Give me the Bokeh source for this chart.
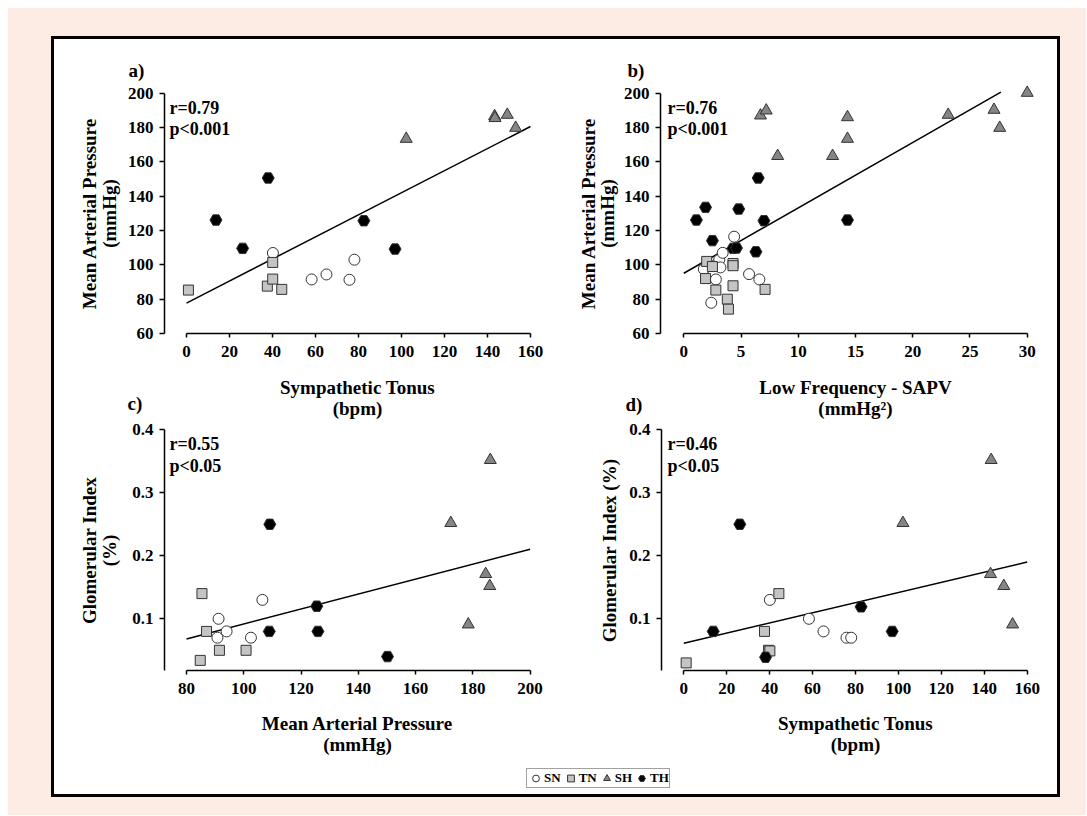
from bokeh.plotting import figure
from bokeh.models import Range1d, FixedTicker, Label, Legend, LegendItem
from bokeh.layouts import row, column
from bokeh.embed import file_html
from bokeh.resources import INLINE

# ---------------- data ----------------
# a) Sympathetic tonus (bpm) vs mean arterial pressure (mmHg)
a_SN_x = [40.2, 58.2, 65.1, 75.8, 78.1]
a_SN_y = [106.9, 91.5, 94.4, 91.3, 103.0]
a_TN_x = [0.9, 40.1, 37.6, 40.1, 44.3]
a_TN_y = [85.3, 101.4, 87.6, 91.7, 85.7]
a_SH_x = [102.2, 143.3, 143.5, 149.2, 153.1]
a_SH_y = [173.4, 186.6, 185.5, 187.4, 179.8]
a_TH_x = [13.7, 26.1, 38.0, 82.5, 97.0]
a_TH_y = [126.1, 109.6, 150.6, 125.7, 109.2]
a_fit_x = [0, 160]
a_fit_y = [77.7, 180.6]

# b) Low frequency SAPV (mmHg^2) vs mean arterial pressure (mmHg)
b_SN_x = [1.75, 2.4, 2.8, 2.9, 3.1, 3.4, 3.2, 4.4, 5.7, 6.6]
b_SN_y = [97.5, 77.9, 91.5, 100.5, 103.0, 107.0, 98.5, 116.4, 94.6, 91.5]
b_TN_x = [2.0, 1.9, 2.5, 2.8, 3.8, 3.9, 4.3, 4.3, 4.3, 7.1]
b_TN_y = [102.0, 92.0, 99.0, 85.3, 80.0, 74.2, 100.8, 99.5, 87.8, 85.7]
b_SH_x = [6.7, 7.2, 8.2, 13.0, 14.3, 14.3, 23.1, 27.1, 27.6, 30.0]
b_SH_y = [187.0, 189.9, 163.4, 163.4, 186.0, 173.4, 187.4, 190.3, 179.8, 200.2]
b_TH_x = [1.1, 1.9, 2.5, 4.8, 6.5, 7.0, 4.3, 4.6, 6.3, 14.3]
b_TH_y = [126.1, 133.5, 114.1, 132.5, 150.6, 125.7, 109.6, 109.8, 107.6, 126.1]
b_fit_x = [0, 27.7]
b_fit_y = [95.1, 200.6]

# c) Mean arterial pressure (mmHg) vs glomerular index (%)
c_SN_x = [91.2, 90.8, 94.0, 102.5, 106.5]
c_SN_y = [0.100, 0.070, 0.080, 0.070, 0.130]
c_TN_x = [85.4, 87.0, 91.5, 100.8, 84.8]
c_TN_y = [0.140, 0.080, 0.050, 0.050, 0.034]
c_SH_x = [172.3, 186.1, 184.5, 185.9, 178.4]
c_SH_y = [0.252, 0.352, 0.171, 0.152, 0.091]
c_TH_x = [109.1, 108.9, 125.5, 125.9, 150.2]
c_TH_y = [0.250, 0.080, 0.120, 0.080, 0.040]
c_fit_x = [80, 200]
c_fit_y = [0.068, 0.2105]

# d) Sympathetic tonus (bpm) vs glomerular index (%)
d_SN_x = [40.1, 58.3, 65.1, 75.8, 78.0]
d_SN_y = [0.130, 0.100, 0.080, 0.070, 0.070]
d_TN_x = [1.1, 37.6, 39.5, 40.1, 44.3]
d_TN_y = [0.030, 0.080, 0.050, 0.049, 0.140]
d_SH_x = [102.1, 143.2, 142.9, 149.1, 153.2]
d_SH_y = [0.252, 0.352, 0.171, 0.152, 0.091]
d_TH_x = [13.7, 26.1, 38.1, 82.6, 97.1]
d_TH_y = [0.080, 0.250, 0.039, 0.119, 0.080]
d_fit_x = [0, 160]
d_fit_y = [0.0613, 0.19]

groups = ["SN", "TN", "SH", "TH"]
panel_letters = ["a)", "b)", "c)", "d)"]
stats_r = ["r=0.79", "r=0.76", "r=0.55", "r=0.46"]
stats_p = ["p<0.001", "p<0.001", "p<0.05", "p<0.05"]
xlab_a = ["Sympathetic Tonus", "(bpm)"]
xlab_b = ["Low Frequency - SAPV", "(mmHg²)"]
xlab_c = ["Mean Arterial Pressure", "(mmHg)"]
xlab_d = ["Sympathetic Tonus", "(bpm)"]
ylab_ab = ["Mean Arterial Pressure", "(mmHg)"]
ylab_c = ["Glomerular Index", "(%)"]
ylab_d = ["Glomerular Index (%)"]
xticks_a = list(range(0, 161, 20))
xticks_b = list(range(0, 31, 5))
xticks_c = list(range(80, 201, 20))
yticks_map = list(range(60, 201, 20))
yticks_gi = [0.1, 0.2, 0.3, 0.4]

# ---------------- style ----------------
FONT = "Liberation Serif"
PINK = "#fdece3"
EDGE = "#333333"
STYLE = {
    "SN": dict(marker="circle", size=11, fill_color="white"),
    "TN": dict(marker="square", size=10, fill_color="#c4c4c4"),
    "SH": dict(marker="triangle", size=12, fill_color="#858585"),
    "TH": dict(marker="hex", size=12, fill_color="black"),
}


class PixMap:
    """Linear map between page pixels and data values (from two anchors per axis)."""
    def __init__(self, xa, pxa, xb, pxb, ya, pya, yb, pyb):
        self.xa, self.pxa, self.sx = xa, pxa, (pxb - pxa) / (xb - xa)
        self.ya, self.pya, self.sy = ya, pya, (pyb - pya) / (yb - ya)

    def x(self, px):
        return self.xa + (px - self.pxa) / self.sx

    def y(self, py):
        return self.ya + (py - self.pya) / self.sy


def make_panel(box, m, xticks, yticks, xbounds, ybounds, yaxis_px, xaxis_px):
    X0, X1, Y0, Y1 = box
    p = figure(width=X1 - X0, height=Y1 - Y0,
               x_range=Range1d(m.x(X0), m.x(X1)), y_range=Range1d(m.y(Y1), m.y(Y0)),
               output_backend="svg", toolbar_location=None, min_border=0)
    p.grid.visible = False
    p.outline_line_color = None
    p.background_fill_color = "white"
    p.border_fill_color = "white"
    for ax in p.axis:
        ax.axis_line_width = 1.5
        ax.axis_line_color = "black"
        ax.major_tick_line_width = 1.5
        ax.major_tick_line_color = "black"
        ax.minor_tick_line_color = None
        ax.major_tick_in = 0
        ax.major_label_text_font = FONT
        ax.major_label_text_font_style = "bold"
        ax.major_label_text_font_size = "17px"
        ax.major_label_text_color = "black"
    p.xaxis.major_tick_out = 4
    p.yaxis.major_tick_out = 5
    p.xaxis.major_label_standoff = 8
    p.yaxis.major_label_standoff = 6
    p.xaxis.ticker = FixedTicker(ticks=xticks)
    p.yaxis.ticker = FixedTicker(ticks=yticks)
    p.xaxis.bounds = xbounds
    p.yaxis.bounds = ybounds if ybounds is not None else (m.y(xaxis_px), max(yticks))
    p.xaxis.fixed_location = m.y(xaxis_px)
    p.yaxis.fixed_location = m.x(yaxis_px)
    return p


def add_points(p, data, fit_x, fit_y):
    p.line(fit_x, fit_y, line_color="black", line_width=1.5)
    for g in groups:
        xs, ys = data[g]
        st = STYLE[g]
        p.scatter(xs, ys, marker=st["marker"], size=st["size"],
                  fill_color=st["fill_color"], line_color=EDGE, line_width=1)


def add_text(p, m, px, py, text, size, align="left", angle=0):
    p.add_layout(Label(x=m.x(px), y=m.y(py), text=text, text_font=FONT,
                       text_font_style="bold", text_font_size=size, text_color="black",
                       text_align=align, text_baseline="middle",
                       angle=angle, angle_units="deg"))


def add_axis_titles(p, m, xlines, xcx, xys, ylines, ycy, yxs):
    for t, py in zip(xlines, xys):
        add_text(p, m, xcx, py, t, "19px", align="center")
    for t, px in zip(ylines, yxs):
        add_text(p, m, px, ycy, t, "19px", align="center", angle=90)


# page-pixel anchors of each panel's data scale
m_a = PixMap(0, 186, 160, 530, 200, 92.7, 60, 333)
m_b = PixMap(0, 683.3, 30, 1026.7, 200, 92.7, 60, 333)
m_c = PixMap(80, 186, 200, 529.6, 0.4, 429.3, 0.1, 618.3)
m_d = PixMap(0, 683.3, 160, 1026.7, 0.4, 429.3, 0.1, 618.3)

# figure boxes in page pixels (left, right, top, bottom)
box_a, box_b = (54, 557, 39, 420), (557, 1057, 39, 420)
box_c, box_d = (54, 557, 420, 762), (557, 1057, 420, 762)

fa = make_panel(box_a, m_a, xticks_a, yticks_map, (0, 160), (60, 200), 164, 333)
fb = make_panel(box_b, m_b, xticks_b, yticks_map, (0, 30), (60, 200), 660, 333)
fc = make_panel(box_c, m_c, xticks_c, yticks_gi, (80, 200), None, 164, 670)
fd = make_panel(box_d, m_d, xticks_a, yticks_gi, (0, 160), None, 661, 670)

add_points(fa, {"SN": (a_SN_x, a_SN_y), "TN": (a_TN_x, a_TN_y),
                "SH": (a_SH_x, a_SH_y), "TH": (a_TH_x, a_TH_y)}, a_fit_x, a_fit_y)
add_points(fb, {"SN": (b_SN_x, b_SN_y), "TN": (b_TN_x, b_TN_y),
                "SH": (b_SH_x, b_SH_y), "TH": (b_TH_x, b_TH_y)}, b_fit_x, b_fit_y)
add_points(fc, {"SN": (c_SN_x, c_SN_y), "TN": (c_TN_x, c_TN_y),
                "SH": (c_SH_x, c_SH_y), "TH": (c_TH_x, c_TH_y)}, c_fit_x, c_fit_y)
add_points(fd, {"SN": (d_SN_x, d_SN_y), "TN": (d_TN_x, d_TN_y),
                "SH": (d_SH_x, d_SH_y), "TH": (d_TH_x, d_TH_y)}, d_fit_x, d_fit_y)

# axis titles
add_axis_titles(fa, m_a, xlab_a, 357, (387, 408), ylab_ab, 213, (89, 109))
add_axis_titles(fb, m_b, xlab_b, 855, (387, 408), ylab_ab, 213, (588, 607))
add_axis_titles(fc, m_c, xlab_c, 357, (723, 744), ylab_c, 550, (89, 109))
add_axis_titles(fd, m_d, xlab_d, 855, (723, 744), ylab_d, 550, (609,))

# panel letters (c and d sit in the upper figures' lower margin)
add_text(fa, m_a, 128, 70, panel_letters[0], "19px")
add_text(fb, m_b, 627, 70, panel_letters[1], "19px")
add_text(fa, m_a, 127, 403, panel_letters[2], "19px")
add_text(fb, m_b, 625, 404, panel_letters[3], "19px")

# statistics
for p, m, i, x0, y1, y2 in [(fa, m_a, 0, 169, 107, 128), (fb, m_b, 1, 667, 107, 128),
                            (fc, m_c, 2, 169, 443, 465), (fd, m_d, 3, 667, 443, 465)]:
    add_text(p, m, x0, y1, stats_r[i], "18px")
    add_text(p, m, x0, y2, stats_p[i], "18px")

# legend strip (its marker renderers fall outside the strip's 0..1 ranges)
lf = figure(width=1003, height=32, x_range=Range1d(0, 1), y_range=Range1d(0, 1),
            x_axis_type=None, y_axis_type=None, output_backend="svg",
            toolbar_location=None, min_border=0)
lf.outline_line_color = None
lf.grid.visible = False
items = []
for g, (xs, ys) in zip(groups, [(a_SN_x, a_SN_y), (a_TN_x, a_TN_y),
                                (a_SH_x, a_SH_y), (a_TH_x, a_TH_y)]):
    st = STYLE[g]
    rr = lf.scatter(xs, ys, marker=st["marker"], size=st["size"],
                    fill_color=st["fill_color"], line_color=EDGE, line_width=1)
    items.append(LegendItem(label=g, renderers=[rr]))
leg = Legend(items=items, orientation="horizontal", location=(472, 6),
             label_text_font=FONT, label_text_font_style="bold",
             label_text_font_size="13px", label_text_color="black",
             glyph_width=17, glyph_height=18, label_standoff=0, spacing=1,
             padding=0, margin=0, label_height=14, label_width=10,
             border_line_color="#444444", border_line_width=1.5,
             background_fill_color="white", background_fill_alpha=1.0)
lf.add_layout(leg, "center")

inner = column(row(fa, fb), row(fc, fd), lf,
               styles={"background-color": "white", "border": "3px solid black"})
pink = column(inner, styles={"background-color": PINK,
                             "padding": "28px 26px 18px 43px"})
page = column(pink, styles={"padding": "8px 0px 0px 8px"})

open("out.html", "w").write(file_html(page, INLINE))
